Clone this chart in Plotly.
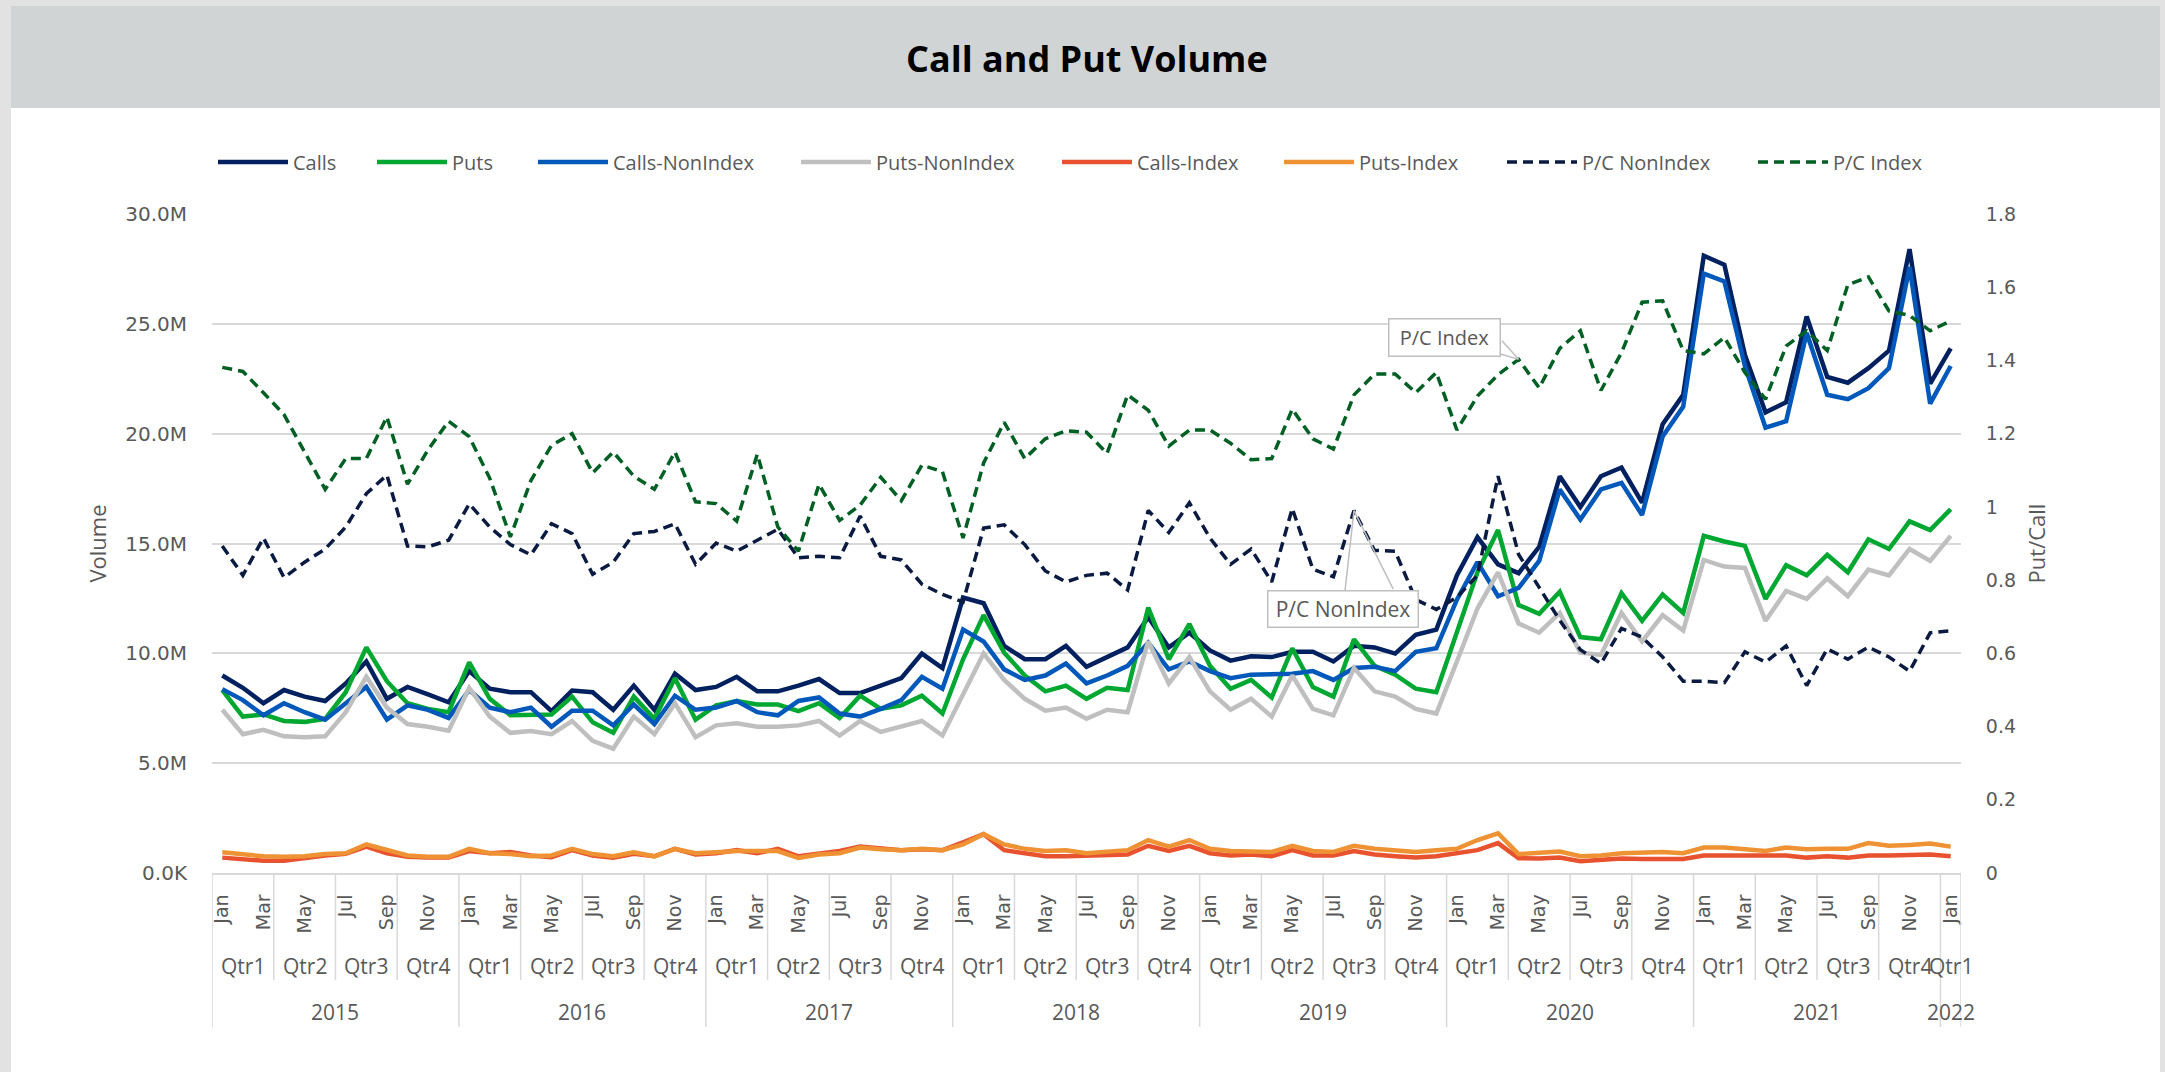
import plotly.graph_objects as go

# ---------------- data (volumes in millions) ----------------
month_names = ["Jan", "Feb", "Mar", "Apr", "May", "Jun", "Jul", "Aug", "Sep", "Oct", "Nov", "Dec"]
years = [2015, 2016, 2017, 2018, 2019, 2020, 2021, 2022]
months = [m for y in years[:-1] for m in month_names] + ["Jan"]
month_year = [y for y in years[:-1] for _ in month_names] + [2022]
quarters = ["Qtr%d" % (month_names.index(m) // 3 + 1) for m in months]
shown_months = ["Jan", "Mar", "May", "Jul", "Sep", "Nov"]

calls = [8.99, 8.43, 7.73, 8.33, 8.03, 7.83, 8.63, 9.63, 7.93, 8.47, 8.13, 7.77, 9.19, 8.39, 8.23, 8.23, 7.37, 8.31, 8.23, 7.43, 8.53,
         7.43, 9.07, 8.33, 8.47, 8.93, 8.27, 8.27, 8.53, 8.83, 8.19, 8.19, 8.53, 8.87, 9.99, 9.33, 12.54, 12.28, 10.34, 9.73, 9.73, 10.34,
         9.39, 9.83, 10.27, 11.64, 10.27, 10.94, 10.13, 9.67, 9.87, 9.83, 10.07, 10.07, 9.63, 10.34, 10.27, 9.99, 10.84, 11.08, 13.55, 15.29, 14.05,
         13.65, 14.85, 18.06, 16.66, 18.06, 18.46, 16.86, 20.43, 21.77, 28.10, 27.69, 23.58, 20.97, 21.43, 25.33, 22.58, 22.32, 22.98, 23.78, 28.40, 22.28, 23.88]
puts = [8.33, 7.12, 7.22, 6.92, 6.88, 7.02, 8.23, 10.27, 8.73, 7.73, 7.47, 7.32, 9.59, 7.93, 7.18, 7.22, 7.22, 8.03, 6.86, 6.38, 8.03,
        7.02, 8.87, 6.98, 7.63, 7.83, 7.67, 7.67, 7.37, 7.73, 7.06, 8.07, 7.47, 7.63, 8.07, 7.26, 9.73, 11.74, 10.03, 8.99, 8.27, 8.53,
        7.93, 8.43, 8.33, 12.08, 9.73, 11.34, 9.43, 8.39, 8.79, 7.99, 10.23, 8.47, 8.03, 10.64, 9.43, 9.03, 8.39, 8.23, 11.04, 13.69, 15.61,
        12.20, 11.80, 12.80, 10.74, 10.64, 12.74, 11.48, 12.68, 11.84, 15.35, 15.09, 14.89, 12.48, 14.01, 13.55, 14.49, 13.69, 15.19, 14.75, 16.01, 15.61, 16.56]
calls_nonindex = [8.37, 7.87, 7.18, 7.73, 7.32, 6.98, 7.73, 8.47, 6.98, 7.63, 7.43, 7.06, 8.33, 7.53, 7.32, 7.53, 6.66, 7.39, 7.39, 6.72, 7.67,
                  6.78, 8.07, 7.43, 7.53, 7.83, 7.32, 7.18, 7.83, 7.99, 7.26, 7.12, 7.47, 7.87, 8.93, 8.39, 11.08, 10.54, 9.27, 8.79, 8.99, 9.53,
                  8.63, 8.99, 9.43, 10.48, 9.27, 9.63, 9.19, 8.87, 9.03, 9.03, 9.07, 9.19, 8.79, 9.33, 9.39, 9.19, 10.07, 10.23, 12.44, 14.15, 12.60,
                  12.98, 14.21, 17.46, 16.09, 17.46, 17.76, 16.30, 19.87, 21.23, 27.29, 26.93, 23.08, 20.27, 20.57, 24.58, 21.77, 21.57, 22.07, 22.98, 27.59, 21.37, 23.08]
puts_nonindex = [7.43, 6.32, 6.52, 6.22, 6.18, 6.22, 7.32, 8.93, 7.53, 6.78, 6.66, 6.48, 8.43, 7.12, 6.38, 6.46, 6.32, 6.92, 6.02, 5.66, 7.12,
                 6.32, 7.73, 6.18, 6.72, 6.82, 6.66, 6.66, 6.72, 6.92, 6.26, 6.92, 6.42, 6.66, 6.92, 6.26, 8.13, 9.99, 8.79, 7.93, 7.39, 7.53,
                 7.02, 7.43, 7.32, 10.54, 8.63, 9.83, 8.27, 7.43, 7.93, 7.12, 8.99, 7.47, 7.18, 9.33, 8.27, 8.03, 7.47, 7.26, 9.63, 12.04, 13.69,
                 11.36, 10.94, 11.84, 10.03, 9.93, 11.84, 10.54, 11.74, 11.04, 14.25, 13.95, 13.89, 11.48, 12.84, 12.48, 13.41, 12.60, 13.81, 13.55, 14.75, 14.21, 15.35]
calls_index = [0.70, 0.62, 0.56, 0.56, 0.70, 0.80, 0.88, 1.20, 0.90, 0.74, 0.70, 0.70, 1.00, 0.90, 0.96, 0.80, 0.72, 1.04, 0.80, 0.70, 0.88,
               0.76, 1.10, 0.84, 0.90, 1.04, 0.90, 1.10, 0.76, 0.90, 1.00, 1.20, 1.10, 1.04, 1.08, 1.04, 1.40, 1.77, 1.04, 0.90, 0.76, 0.76,
               0.80, 0.80, 0.84, 1.24, 1.00, 1.24, 0.90, 0.80, 0.84, 0.76, 1.04, 0.80, 0.80, 1.00, 0.84, 0.76, 0.70, 0.76, 0.90, 1.04, 1.36,
               0.67, 0.66, 0.70, 0.54, 0.60, 0.66, 0.64, 0.64, 0.64, 0.80, 0.80, 0.76, 0.76, 0.80, 0.70, 0.76, 0.70, 0.80, 0.80, 0.80, 0.84, 0.76]
puts_index = [0.94, 0.84, 0.76, 0.74, 0.76, 0.86, 0.90, 1.30, 1.04, 0.80, 0.74, 0.74, 1.10, 0.90, 0.86, 0.76, 0.80, 1.10, 0.86, 0.76, 0.94,
              0.76, 1.10, 0.90, 0.94, 1.00, 1.00, 1.00, 0.68, 0.84, 0.90, 1.16, 1.08, 1.04, 1.10, 1.04, 1.30, 1.77, 1.30, 1.10, 1.00, 1.04,
              0.90, 0.96, 1.04, 1.50, 1.20, 1.50, 1.10, 1.00, 1.00, 0.96, 1.24, 1.00, 0.96, 1.24, 1.10, 1.04, 0.96, 1.04, 1.10, 1.50, 1.81,
              0.86, 0.90, 0.98, 0.76, 0.80, 0.90, 0.94, 0.96, 0.90, 1.16, 1.16, 1.06, 1.00, 1.16, 1.08, 1.10, 1.10, 1.36, 1.24, 1.28, 1.34, 1.20]
pc_nonindex = [0.893, 0.813, 0.915, 0.807, 0.849, 0.885, 0.945, 1.036, 1.087, 0.893, 0.891, 0.909, 1.008, 0.945, 0.897, 0.869, 0.954, 0.927, 0.816, 0.849, 0.927,
               0.933, 0.954, 0.843, 0.901, 0.879, 0.909, 0.939, 0.861, 0.865, 0.861, 0.975, 0.865, 0.855, 0.789, 0.761, 0.740, 0.942, 0.951, 0.897, 0.825, 0.795,
               0.813, 0.819, 0.773, 0.990, 0.930, 1.011, 0.915, 0.843, 0.885, 0.795, 0.996, 0.830, 0.809, 0.990, 0.881, 0.879, 0.747, 0.720, 0.753, 0.813, 1.084,
               0.870, 0.780, 0.690, 0.610, 0.572, 0.668, 0.644, 0.590, 0.524, 0.524, 0.520, 0.604, 0.576, 0.620, 0.512, 0.612, 0.584, 0.617, 0.590, 0.551, 0.656, 0.662]
pc_index = [1.381, 1.370, 1.312, 1.252, 1.150, 1.048, 1.132, 1.132, 1.246, 1.062, 1.156, 1.234, 1.192, 1.078, 0.918, 1.072, 1.168, 1.200, 1.093, 1.150, 1.084,
            1.048, 1.150, 1.014, 1.009, 0.961, 1.144, 0.945, 0.879, 1.062, 0.963, 1.005, 1.081, 1.017, 1.114, 1.096, 0.915, 1.120, 1.231, 1.132, 1.186, 1.208,
            1.204, 1.146, 1.306, 1.264, 1.166, 1.210, 1.210, 1.174, 1.129, 1.132, 1.267, 1.186, 1.158, 1.306, 1.363, 1.363, 1.312, 1.367, 1.210, 1.303, 1.361,
            1.403, 1.325, 1.433, 1.481, 1.318, 1.421, 1.559, 1.563, 1.427, 1.418, 1.463, 1.367, 1.294, 1.439, 1.481, 1.427, 1.607, 1.628, 1.535, 1.523, 1.481, 1.508]

vol_ticks = [0, 5, 10, 15, 20, 25, 30]
vol_ticktext = ["0.0K", "5.0M", "10.0M", "15.0M", "20.0M", "25.0M", "30.0M"]

# ---------------- figure ----------------
W, H = 2165, 1072
ML, MR, MT, MB = 212, 204, 214, 199
PW, PH = W - ML - MR, H - MT - MB


def px_x(p):
    return (p - ML) / PW


def px_y(p):
    return (H - MB - p) / PH


x = list(range(len(months)))
GRAY_TXT = "#595959"
LBL_FONT = "Open Sans"
NUM_FONT = "DejaVu Sans"

series = [
    ("Calls", calls, "#002060", "solid", "y"),
    ("Puts", puts, "#00A832", "solid", "y"),
    ("Calls-NonIndex", calls_nonindex, "#0058BA", "solid", "y"),
    ("Puts-NonIndex", puts_nonindex, "#BFBFBF", "solid", "y"),
    ("Calls-Index", calls_index, "#E8522E", "solid", "y"),
    ("Puts-Index", puts_index, "#EE9234", "solid", "y"),
    ("P/C NonIndex", pc_nonindex, "#0A1A40", "dash", "y2"),
    ("P/C Index", pc_index, "#006024", "dash", "y2"),
]
# legend entry line start positions (px) - one legend box per entry
legend_px = [221, 380, 541, 804, 1065, 1287, 1510, 1761]

fig = go.Figure()
legend_layout = {}
for k, (name, vals, col, style, ax) in enumerate(series):
    lg = "legend" if k == 0 else "legend%d" % (k + 1)
    if style == "solid":
        line = dict(color=col, width=4.5)
    else:
        line = dict(color=col, width=3.5, dash="10px,6px")
    fig.add_trace(go.Scatter(x=x, y=vals, name=name, mode="lines", line=line, yaxis=ax, legend=lg))
    legend_layout[lg] = dict(orientation="h", x=px_x(legend_px[k] - 8), y=px_y(162),
                             xanchor="left", yanchor="middle", itemwidth=70,
                             font=dict(family=LBL_FONT, size=20, color=GRAY_TXT),
                             bgcolor="rgba(0,0,0,0)")

shapes = []
# page frame, title bar
shapes.append(dict(type="rect", xref="paper", yref="paper", x0=px_x(11), x1=px_x(2160),
                   y0=px_y(H + 5), y1=px_y(108), fillcolor="white", line=dict(width=0), layer="below"))
shapes.append(dict(type="rect", xref="paper", yref="paper", x0=px_x(11), x1=px_x(2160),
                   y0=px_y(108), y1=px_y(6), fillcolor="#D0D4D5", line=dict(width=0), layer="below"))

# category separators
q_bounds = sorted(set([i - 0.5 for i in range(0, len(months), 3)] + [len(months) - 1.5, len(months) - 0.5]))
y_bounds = sorted(set([i - 0.5 for i in range(0, len(months), 12)] + [len(months) - 1.5, len(months) - 0.5]))
for b in q_bounds:
    if b in y_bounds:
        continue
    shapes.append(dict(type="line", xref="x", yref="paper", x0=b, x1=b, y0=0, y1=px_y(980),
                       line=dict(color="#D9D9D9", width=1.5)))
for b in y_bounds:
    shapes.append(dict(type="line", xref="x", yref="paper", x0=b, x1=b, y0=0, y1=px_y(1027),
                       line=dict(color="#D9D9D9", width=1.5)))

annotations = []
annotations.append(dict(text="<b>Call and Put Volume</b>", xref="paper", yref="paper",
                        x=px_x(1087), y=px_y(58), showarrow=False, xanchor="center", yanchor="middle",
                        font=dict(family=LBL_FONT, size=36, color="#000000")))

# quarter & year labels
groups_q = {}
for i, (yy, q) in enumerate(zip(month_year, quarters)):
    groups_q.setdefault((yy, q), []).append(i)
for (yy, q), idx in groups_q.items():
    annotations.append(dict(text=q, xref="x", yref="paper", x=sum(idx) / len(idx), y=px_y(966),
                            showarrow=False, xanchor="center", yanchor="middle",
                            font=dict(family=LBL_FONT, size=21, color=GRAY_TXT)))
groups_y = {}
for i, yy in enumerate(month_year):
    groups_y.setdefault(yy, []).append(i)
for yy, idx in groups_y.items():
    annotations.append(dict(text=str(yy), xref="x", yref="paper", x=(idx[0] + idx[-1]) / 2, y=px_y(1012),
                            showarrow=False, xanchor="center", yanchor="middle",
                            font=dict(family=LBL_FONT, size=21, color=GRAY_TXT)))

# callouts
i_idx = 63
i_ni = 55
annotations.append(dict(text="", xref="x", yref="y2", x=i_idx, y=pc_index[i_idx],
                        showarrow=True, arrowhead=0, arrowcolor="#BFBFBF", arrowwidth=1.5, standoff=0,
                        ax=-18, ay=-20))
annotations.append(dict(text="P/C Index", xref="x", yref="y2", x=i_idx, y=pc_index[i_idx],
                        showarrow=True, arrowhead=0, arrowcolor="#BFBFBF", arrowwidth=1.5, standoff=0,
                        ax=-74, ay=-22, bgcolor="white", bordercolor="#BFBFBF", borderwidth=1.5, borderpad=3,
                        width=104, height=30,
                        font=dict(family=LBL_FONT, size=20, color=GRAY_TXT)))
annotations.append(dict(text="", xref="x", yref="y2", x=i_ni, y=pc_nonindex[i_ni],
                        showarrow=True, arrowhead=0, arrowcolor="#BFBFBF", arrowwidth=1.5, standoff=0,
                        ax=40, ay=80))
annotations.append(dict(text="P/C NonIndex", xref="x", yref="y2", x=i_ni, y=pc_nonindex[i_ni],
                        showarrow=True, arrowhead=0, arrowcolor="#BFBFBF", arrowwidth=1.5, standoff=0,
                        ax=-11, ay=98, bgcolor="white", bordercolor="#BFBFBF", borderwidth=1.5, borderpad=3,
                        width=143, height=29,
                        font=dict(family=LBL_FONT, size=21, color=GRAY_TXT)))

tickvals = [i for i, m in enumerate(months) if m in shown_months]
ticktext = [months[i] for i in tickvals]

fig.update_layout(
    width=W, height=H,
    margin=dict(l=ML, r=MR, t=MT, b=MB, autoexpand=False),
    paper_bgcolor="#E2E2E2", plot_bgcolor="rgba(0,0,0,0)",
    showlegend=True,
    xaxis=dict(range=[-0.5, len(months) - 0.5], tickvals=tickvals, ticktext=ticktext, tickangle=-90,
               tickfont=dict(family=NUM_FONT, size=19, color=GRAY_TXT), showgrid=False, zeroline=False,
               showline=True, linecolor="#D9D9D9", linewidth=1.5,
               ticks="outside", ticklen=12, tickcolor="rgba(0,0,0,0)"),
    yaxis=dict(range=[0, 30], tickvals=vol_ticks, ticktext=vol_ticktext,
               tickfont=dict(family=NUM_FONT, size=20, color=GRAY_TXT),
               gridcolor="#D9D9D9", gridwidth=1.5, zeroline=False, showline=False,
               ticks="outside", ticklen=20, tickcolor="rgba(0,0,0,0)",
               title=dict(text="Volume", font=dict(family=LBL_FONT, size=22, color=GRAY_TXT), standoff=12)),
    yaxis2=dict(range=[0, 1.8], dtick=0.2, tick0=0, overlaying="y", side="right", showgrid=False,
                zeroline=False, tickfont=dict(family=NUM_FONT, size=19, color=GRAY_TXT),
                ticks="outside", ticklen=20, tickcolor="rgba(0,0,0,0)",
                title=dict(text="Put/Call", font=dict(family=LBL_FONT, size=22, color=GRAY_TXT), standoff=14)),
    shapes=shapes, annotations=annotations,
    **legend_layout,
)

fig.write_html("out.html", config={"displayModeBar": False},
               post_script="document.body.style.margin='0px';")
